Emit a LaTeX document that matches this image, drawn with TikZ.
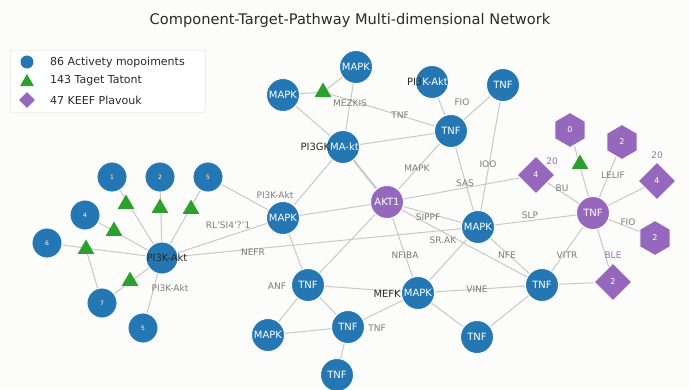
\documentclass[tikz,border=0pt]{standalone}
\usepackage{fontspec}
\setmainfont{DejaVu Sans}
\usetikzlibrary{shapes.geometric}

\definecolor{pagebg}{HTML}{FCFCFA}
\definecolor{cblue}{HTML}{2477B3}
\definecolor{cpurple}{HTML}{9568BD}
\definecolor{cgreen}{HTML}{2CA02C}
\definecolor{egray}{HTML}{C8C8C8}
\definecolor{lgray}{HTML}{7C7C7C}
\definecolor{darktext}{HTML}{2A2A2A}
\definecolor{plabel}{HTML}{9A70C2}

\pgfdeclarelayer{bglayer}
\pgfdeclarelayer{edgelayer}
\pgfsetlayers{bglayer,edgelayer,main}

\tikzset{
  comp/.style={circle, fill=cblue, draw=white, line width=0.9pt, minimum size=33pt,
    inner sep=0pt, text=white, font=\fontsize{10}{10}\selectfont},
  smallcomp/.style={comp, minimum size=30pt, font=\fontsize{6}{6}\selectfont},
  pwcirc/.style={comp, fill=cpurple},
  hexa/.style={regular polygon, regular polygon sides=6, shape border rotate=30,
    fill=cpurple, draw=white, line width=0.9pt, minimum size=35pt, inner sep=0pt,
    text=white, font=\fontsize{8}{8}\selectfont},
  dmd/.style={diamond, aspect=1, fill=cpurple, draw=white, line width=0.9pt,
    minimum size=38pt, inner sep=0pt, text=white, font=\fontsize{8}{8}\selectfont},
  tgt/.style={regular polygon, regular polygon sides=3, fill=cgreen, minimum size=19pt,
    inner sep=0pt},
  elab/.style={text=lgray, font=\fontsize{9}{9}\selectfont, inner sep=1pt},
  plab/.style={text=plabel, font=\fontsize{9}{9}\selectfont, inner sep=1pt},
  darklab/.style={text=darktext, font=\fontsize{10}{10}\selectfont, inner sep=0pt},
  link/.style={draw=egray, line width=1pt},
}

\begin{document}
\begin{tikzpicture}[x=1pt, y=-1pt]
\begin{pgfonlayer}{bglayer}
  \fill[pagebg] (0,0) rectangle (689,389);
\end{pgfonlayer}
\useasboundingbox (0,0) rectangle (689,389);

% title
\node[font=\fontsize{14.6}{14.6}\selectfont, text=darktext] (title) at (350,20)
  {Component-Target-Pathway Multi-dimensional Network};

% legend
\node[draw=black!15, fill=white, rounded corners=2pt, minimum width=195pt,
  minimum height=62pt, anchor=north west] (legendbox) at (10,50) {};
\node[circle, fill=cblue, minimum size=13pt, inner sep=0pt] (legc) at (27,62) {};
\node[regular polygon, regular polygon sides=3, fill=cgreen, minimum size=16pt,
  inner sep=0pt] (legt) at (27,82) {};
\node[diamond, aspect=1, fill=cpurple, minimum size=16pt, inner sep=0pt] (legd) at (27,100) {};
\node[anchor=west, font=\fontsize{11}{11}\selectfont, text=darktext, inner sep=0pt]
  (legca) at (50,62) {86 Activety mopoiments};
\node[anchor=west, font=\fontsize{11}{11}\selectfont, text=darktext, inner sep=0pt]
  (legta) at (50,81) {143 Taget Tatont};
\node[anchor=west, font=\fontsize{11}{11}\selectfont, text=darktext, inner sep=0pt]
  (legda) at (50,100) {47 KEEF Plavouk};

% left cluster
\node[comp, minimum size=32pt] (hub) at (162,258) {};
\node[smallcomp] (n1) at (112,177) {1};
\node[smallcomp] (n2) at (160,177) {2};
\node[smallcomp] (n5a) at (208,177) {5};
\node[smallcomp] (n4) at (85,215) {4};
\node[smallcomp] (n6) at (47,243) {6};
\node[smallcomp] (n7) at (102,303) {7};
\node[smallcomp] (n5b) at (143,328) {5};
\node[tgt] (t1) at (126,204) {};
\node[tgt] (t2) at (160,208) {};
\node[tgt] (t3) at (191,209) {};
\node[tgt] (t4) at (114,231) {};
\node[tgt] (t6) at (86,249) {};
\node[tgt] (t7) at (130,281) {};
\node[darklab] (hubtext) at (167,258) {PI3K-Akt};

% central network
\node[comp] (mapkL) at (283,95) {MAPK};
\node[comp] (mapkT) at (356,67) {MAPK};
\node[tgt] (triA) at (323,92) {};
\node[comp] (pik) at (432,82) {};
\node[darklab, anchor=east] (piktext) at (448,82) {PI3\textcolor{white}{K-Akt}};
\node[comp] (tnfR) at (503,85) {TNF};
\node[comp] (tnfA) at (451,131) {TNF};
\node[comp] (pig) at (343,147) {};
\node[darklab, anchor=east] (pigtext) at (359,147) {PI3GK\textcolor{white}{MA-kt}};
\node[pwcirc] (akt) at (387,202) {AKT1};
\node[comp] (mapkM) at (283,218) {MAPK};
\node[comp] (mapkR) at (478,227) {MAPK};
\node[comp] (tnfP) at (308,285) {TNF};
\node[comp] (mapkB) at (418,293) {MAPK};
\node[darklab, anchor=east] (meftext) at (401,294) {MEFK};
\node[comp] (mapkBL) at (268,335) {MAPK};
\node[comp] (tnfQ) at (348,327) {TNF};
\node[comp] (tnfD) at (337,375) {TNF};
\node[comp] (tnfC) at (477,337) {TNF};
\node[comp] (tnfS) at (542,285) {TNF};

% pathway cluster
\node[pwcirc] (ptnf) at (593,213) {TNF};
\node[hexa] (hex0) at (570,130) {0};
\node[hexa] (hex2) at (622,142) {2};
\node[tgt] (triB) at (580,164) {};
\node[dmd] (dia4a) at (536,175) {4};
\node[dmd] (dia4b) at (657,181) {4};
\node[hexa] (hex2b) at (655,238) {2};
\node[dmd] (dia2) at (613,282) {2};
\node[plab] (p20a) at (552,161) {20};
\node[plab] (p20b) at (657,155) {20};

% connectors
\begin{pgfonlayer}{edgelayer}
  \path[link] (n1) -- (hub) (n2) -- (hub) (n5a) -- (hub) (n4) -- (hub)
    (n6) -- (hub) (n7) -- (t6) (n7) -- (hub) (n5b) -- (hub);
  \path[link] (hub) -- (mapkM) (n5a) -- (mapkM) (hub) -- (mapkR);
  \path[link] (mapkL) -- (triA) (triA) -- (mapkT) (triA) -- (tnfA)
    (mapkL) -- (pig) (mapkT) -- (pig) (pig) -- (tnfA) (pig) -- (mapkM)
    (pik) -- (tnfA) (tnfR) -- (tnfA) (tnfR) -- (mapkR) (tnfA) -- (mapkR)
    (tnfA) -- (akt);
  \path[link, line width=2pt] (pig) -- (akt);
  \path[link] (akt) -- (dia4a) (akt) -- (mapkM) (akt) -- (mapkR)
    (akt) -- (tnfS) (akt) -- (mapkB) (akt) -- (tnfP);
  \path[link] (mapkM) -- (tnfP) (mapkR) -- (mapkB) (mapkR) -- (ptnf)
    (mapkR) -- (tnfS) (tnfP) -- (mapkB) (tnfP) -- (mapkBL) (tnfP) -- (tnfQ)
    (mapkBL) -- (tnfQ) (tnfQ) -- (tnfD) (tnfQ) -- (mapkB) (mapkB) -- (tnfS)
    (mapkB) -- (tnfC) (tnfC) -- (tnfS) (tnfS) -- (ptnf) (tnfS) -- (dia2);
  \path[link] (ptnf) -- (hex0) (ptnf) -- (hex2) (ptnf) -- (dia4b)
    (ptnf) -- (hex2b) (ptnf) -- (dia2) (ptnf) -- (dia4a);
\end{pgfonlayer}

% connector labels
\node[elab] (l1) at (170,288) {PI3K-Akt};
\node[elab] (l2) at (228,225) {RL'SI4'?'1};
\node[elab] (l3) at (253,252) {NEFR};
\node[elab] (l4) at (275,195) {PI3K-Akt};
\node[elab] (l5) at (350,103) {MEZKIS};
\node[elab] (l6) at (400,115) {TNF};
\node[elab] (l7) at (462,102) {FIO};
\node[elab] (l8) at (417,168) {MAPK};
\node[elab] (l9) at (488,164) {IOO};
\node[elab] (l10) at (465,183) {SAS};
\node[elab] (l11) at (428,217) {SIPPF};
\node[elab] (l12) at (530,215) {SLP};
\node[elab] (l13) at (443,240) {SR.AK};
\node[elab] (l14) at (405,255) {NFIBA};
\node[elab] (l15) at (507,255) {NFE};
\node[elab] (l16) at (277,286) {ANF};
\node[elab] (l17) at (477,289) {VINE};
\node[elab] (l18) at (377,328) {TNF};
\node[elab] (l19) at (562,188) {BU};
\node[elab] (l20) at (613,175) {LELIF};
\node[elab] (l21) at (628,222) {FIO};
\node[elab] (l22) at (567,255) {VITR};
\node[plab] (l23) at (613,255) {BLE};
\end{tikzpicture}
\end{document}
